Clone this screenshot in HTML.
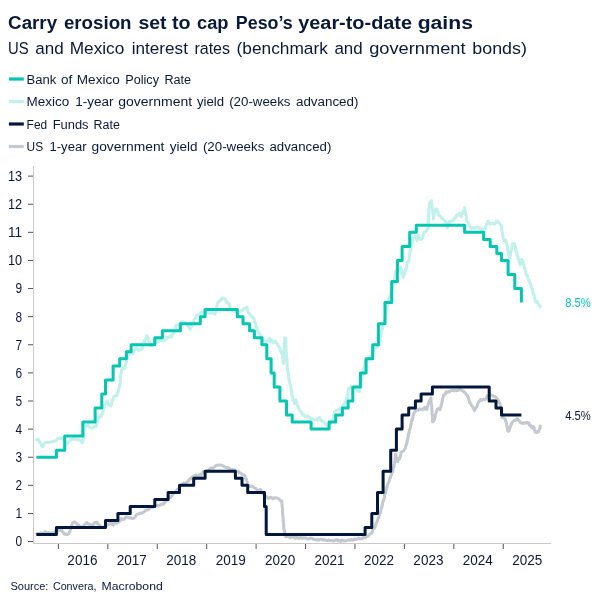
<!DOCTYPE html>
<html lang="en"><head><meta charset="utf-8"><title>Carry erosion set to cap Peso’s year-to-date gains</title>
<style>html,body{margin:0;padding:0;background:#fff}body{width:606px;height:606px;position:relative;overflow:hidden;font-family:"Liberation Sans",Arial,sans-serif}</style>
</head><body>
<svg width="606" height="606" viewBox="0 0 606 606" style="position:absolute;left:0;top:0">
<g shape-rendering="crispEdges">
<line x1="33.5" y1="166" x2="33.5" y2="544" stroke="#c9c9c9" stroke-width="1"/>
<line x1="33" y1="543.5" x2="551" y2="543.5" stroke="#c9c9c9" stroke-width="1"/>
</g>
<line x1="28" y1="541.55" x2="33" y2="541.55" stroke="#555" stroke-width="1"/>
<line x1="28" y1="513.44" x2="33" y2="513.44" stroke="#555" stroke-width="1"/>
<line x1="28" y1="485.33" x2="33" y2="485.33" stroke="#555" stroke-width="1"/>
<line x1="28" y1="457.22" x2="33" y2="457.22" stroke="#555" stroke-width="1"/>
<line x1="28" y1="429.11" x2="33" y2="429.11" stroke="#555" stroke-width="1"/>
<line x1="28" y1="401.0" x2="33" y2="401.0" stroke="#555" stroke-width="1"/>
<line x1="28" y1="372.89" x2="33" y2="372.89" stroke="#555" stroke-width="1"/>
<line x1="28" y1="344.78" x2="33" y2="344.78" stroke="#555" stroke-width="1"/>
<line x1="28" y1="316.67" x2="33" y2="316.67" stroke="#555" stroke-width="1"/>
<line x1="28" y1="288.56" x2="33" y2="288.56" stroke="#555" stroke-width="1"/>
<line x1="28" y1="260.45" x2="33" y2="260.45" stroke="#555" stroke-width="1"/>
<line x1="28" y1="232.34" x2="33" y2="232.34" stroke="#555" stroke-width="1"/>
<line x1="28" y1="204.23" x2="33" y2="204.23" stroke="#555" stroke-width="1"/>
<line x1="28" y1="176.12" x2="33" y2="176.12" stroke="#555" stroke-width="1"/>
<line x1="58.4" y1="544" x2="58.4" y2="549" stroke="#555" stroke-width="1"/>
<line x1="107.83" y1="544" x2="107.83" y2="549" stroke="#555" stroke-width="1"/>
<line x1="157.26" y1="544" x2="157.26" y2="549" stroke="#555" stroke-width="1"/>
<line x1="206.69" y1="544" x2="206.69" y2="549" stroke="#555" stroke-width="1"/>
<line x1="256.12" y1="544" x2="256.12" y2="549" stroke="#555" stroke-width="1"/>
<line x1="305.55" y1="544" x2="305.55" y2="549" stroke="#555" stroke-width="1"/>
<line x1="354.98" y1="544" x2="354.98" y2="549" stroke="#555" stroke-width="1"/>
<line x1="404.41" y1="544" x2="404.41" y2="549" stroke="#555" stroke-width="1"/>
<line x1="453.84" y1="544" x2="453.84" y2="549" stroke="#555" stroke-width="1"/>
<line x1="503.27" y1="544" x2="503.27" y2="549" stroke="#555" stroke-width="1"/>
<polyline fill="none" stroke="#c2f0ea" stroke-width="3.0" stroke-linejoin="round" stroke-linecap="round" points="36.3,439.6 37.9,439.2 38.4,439.3 38.8,440.9 39.4,441.3 40.1,443.2 40.7,443.7 41.6,445.2 42.3,446.5 43.1,446.4 43.7,444.2 44.5,443.4 45.5,442.5 46.5,442.5 47.6,442.3 48.3,442.7 49.5,442.4 50.5,442.1 51.8,441.9 53.2,441.5 54.3,441.1 56.0,440.7 56.7,440.4 57.5,438.7 58.5,438.7 59.8,437.8 60.9,438.6 62.2,437.8 62.8,438.9 63.9,440.0 64.6,440.4 65.1,442.5 65.4,442.2 65.8,444.3 66.0,444.9 66.8,443.9 67.6,443.1 68.5,442.4 69.5,441.2 70.2,440.5 71.0,439.9 72.5,439.0 73.7,439.0 74.5,439.2 76.1,439.0 77.5,439.9 78.4,439.8 79.4,439.5 80.4,440.4 81.2,441.3 82.0,442.7 82.7,442.2 82.7,440.8 83.0,439.9 83.4,439.3 83.4,437.6 83.5,436.2 83.8,435.4 83.9,434.8 84.1,432.3 84.2,431.1 84.3,432.0 84.4,429.9 84.7,429.1 84.8,427.7 85.2,427.5 85.2,426.2 85.5,425.6 86.8,425.7 88.1,425.2 88.9,426.8 90.0,427.0 90.6,427.7 92.3,428.3 93.3,427.7 94.0,426.5 95.2,426.4 96.1,426.3 96.4,425.2 96.5,422.8 96.9,423.6 97.2,420.5 97.5,420.8 97.7,419.6 98.1,418.8 98.7,417.4 99.8,416.3 100.3,416.8 101.2,416.3 101.8,413.8 102.4,413.5 102.9,412.4 103.2,410.2 103.1,410.1 103.5,408.1 103.3,407.3 103.8,407.2 104.4,406.7 104.7,405.1 105.4,404.5 105.8,403.7 106.4,403.1 107.2,401.2 107.6,402.7 108.1,403.2 108.1,404.5 108.9,404.2 110.0,405.6 110.9,406.1 110.6,405.6 111.4,405.1 111.7,403.3 112.1,401.9 112.3,400.2 112.7,399.5 112.9,399.2 113.5,397.4 114.0,396.6 114.1,396.4 115.3,395.6 116.8,395.5 117.2,393.1 117.7,393.5 118.4,391.3 118.5,390.6 118.9,389.9 119.1,388.2 119.3,387.3 119.4,387.4 119.6,385.4 119.8,384.2 120.1,384.0 120.1,382.3 120.2,381.1 120.2,380.2 120.3,379.7 120.6,378.5 120.1,377.6 120.6,375.4 120.6,375.1 121.0,374.0 121.2,372.6 121.5,371.6 121.5,370.3 121.9,369.8 122.5,368.0 123.5,368.3 124.7,368.6 125.2,366.7 125.2,365.0 125.5,365.2 125.8,363.9 126.2,362.6 126.6,361.2 126.5,359.7 127.1,359.2 127.2,358.8 127.3,358.3 127.8,356.2 127.9,356.0 128.4,354.4 129.3,354.0 129.9,353.2 130.4,352.1 131.9,352.9 132.9,353.9 133.3,352.0 134.3,351.4 134.8,349.7 135.5,348.8 136.6,348.0 137.7,349.6 138.8,350.9 139.6,349.7 140.4,349.1 141.2,348.6 141.9,349.1 142.5,346.1 142.8,345.5 143.0,345.0 143.3,344.4 143.7,342.7 144.1,342.6 144.8,341.3 144.7,340.3 145.4,339.1 145.6,338.9 146.2,337.7 146.5,336.3 147.0,335.6 147.5,337.0 148.1,338.2 148.7,338.6 148.7,340.4 149.2,341.0 149.3,341.8 149.6,342.4 149.9,343.1 150.3,345.4 151.8,345.6 152.3,345.1 153.3,343.3 153.6,343.8 154.6,342.7 155.3,342.0 156.7,342.3 157.6,340.8 158.4,339.7 159.4,341.5 160.7,340.5 162.0,340.7 163.1,340.8 164.1,340.7 165.1,340.4 165.9,338.8 166.7,337.4 167.5,337.8 168.5,337.2 169.9,336.6 170.7,335.3 171.7,336.8 172.4,334.8 173.0,333.1 173.4,332.6 173.9,332.8 174.6,331.2 174.8,329.7 175.1,329.5 175.6,328.8 175.7,326.8 175.8,325.5 177.2,325.2 178.3,324.9 179.6,323.3 180.8,322.5 181.7,321.8 182.9,321.8 183.8,322.5 184.9,322.4 185.0,323.6 185.9,322.8 186.9,324.4 187.2,325.4 188.1,325.5 188.7,327.2 189.6,328.3 190.2,329.2 190.2,327.4 191.2,325.6 191.9,326.6 192.3,325.1 192.6,324.3 193.1,323.3 193.3,322.5 193.7,321.8 194.1,319.6 194.5,319.3 195.3,318.5 196.1,317.2 196.3,315.6 197.9,314.9 199.2,314.6 200.3,313.7 201.5,312.2 202.6,313.5 203.6,312.2 204.8,312.1 205.9,312.4 207.1,312.7 208.3,312.5 210.0,313.2 210.8,313.3 212.1,312.3 212.9,313.1 213.7,313.5 214.9,314.3 215.3,312.8 215.6,311.9 215.9,311.8 216.3,309.4 216.5,309.2 216.8,307.7 216.8,307.1 216.7,305.9 216.9,305.1 217.2,303.7 217.7,302.9 218.8,301.7 219.6,300.8 220.3,300.9 221.0,299.5 221.8,299.4 222.0,298.0 223.1,298.2 224.7,299.0 225.2,298.5 225.8,301.0 226.5,301.9 227.2,303.0 228.2,302.7 229.3,305.1 229.4,303.9 230.0,306.0 229.8,306.5 229.9,308.2 230.4,308.5 231.2,309.4 232.2,310.4 233.1,310.9 233.9,311.2 235.0,311.5 236.4,312.3 237.1,312.5 238.4,312.8 239.5,311.7 240.8,311.6 241.8,310.4 243.2,309.8 244.1,308.2 245.7,308.5 246.8,307.1 247.4,308.8 247.4,310.8 248.0,311.5 248.3,312.2 248.4,312.9 249.2,314.0 249.8,314.0 250.3,315.2 251.0,315.8 251.6,316.4 252.7,317.8 253.6,317.7 254.2,319.9 254.3,320.1 254.6,322.3 255.2,322.5 255.5,323.9 255.9,325.6 256.1,326.3 256.4,327.5 256.8,327.2 257.0,329.1 257.3,330.0 257.6,331.3 258.3,332.2 258.7,332.5 259.4,333.3 260.0,334.8 260.5,335.1 261.3,336.6 262.3,338.1 262.5,338.3 263.2,338.9 264.1,340.1 264.9,341.4 266.3,341.8 267.3,341.0 268.7,339.1 270.0,338.3 270.6,341.3 271.4,341.7 272.0,340.8 272.5,342.5 273.3,341.3 273.8,342.3 275.1,340.9 275.5,341.6 276.0,342.8 276.8,343.1 277.3,344.0 277.9,344.8 278.5,346.1 278.9,346.6 279.6,348.6 280.0,348.1 280.2,350.5 280.7,351.6 281.0,352.3 281.6,351.6 281.8,353.7 282.2,354.4 282.7,355.7 282.7,356.1 282.4,357.6 282.9,358.4 283.0,360.2 283.0,360.8 283.1,362.3 283.6,363.0 283.4,363.4 283.5,363.2 283.5,362.5 283.4,360.8 283.9,360.7 283.7,359.2 284.1,358.4 283.5,356.9 284.2,355.2 284.0,353.8 284.2,353.4 284.1,353.3 283.6,351.1 284.1,350.0 284.1,349.3 284.3,348.5 284.1,348.0 284.4,346.6 284.3,345.9 284.3,344.0 284.5,343.4 284.2,342.9 284.5,341.5 284.4,340.3 284.6,339.6 284.5,337.8 285.7,338.4 285.8,338.7 285.8,341.2 285.9,341.4 285.9,341.7 285.7,344.4 285.6,343.8 286.0,345.1 285.8,345.9 286.2,347.1 285.9,347.5 286.1,349.5 286.1,351.3 286.1,350.9 286.0,352.6 286.5,353.0 286.3,354.6 286.5,355.3 286.6,357.2 286.6,357.8 286.8,359.2 287.0,359.4 287.1,360.9 286.8,361.8 286.9,363.0 287.3,363.1 287.0,365.6 287.3,366.7 287.2,367.3 287.2,368.0 287.8,370.1 288.1,370.5 287.9,371.4 287.9,373.3 288.5,373.2 288.7,374.1 288.7,375.4 288.5,377.0 288.7,378.5 289.0,379.0 289.2,380.1 289.4,381.4 289.8,382.1 289.9,384.1 290.0,384.0 290.4,385.2 290.3,386.2 290.6,386.8 290.9,387.8 291.1,388.8 291.5,390.2 291.6,391.5 291.8,392.3 292.0,393.4 291.7,394.5 292.1,395.8 292.5,396.1 292.3,396.3 292.7,398.1 292.9,400.3 293.6,400.3 293.8,401.2 294.3,402.2 294.7,403.8 294.8,402.5 295.5,400.7 295.6,400.1 295.8,399.8 296.2,401.0 296.6,401.4 296.9,402.4 296.9,404.4 297.5,405.4 297.4,406.4 298.3,406.8 298.3,407.9 299.0,408.7 299.6,409.3 300.0,410.7 300.7,411.6 301.7,411.9 302.1,414.0 302.7,414.5 303.9,414.7 304.8,416.2 305.8,415.9 306.9,416.8 307.6,415.9 308.7,416.9 310.0,417.9 310.9,418.6 312.0,418.6 312.9,419.1 314.0,419.7 315.3,420.4 316.1,419.3 317.4,419.5 318.3,418.2 319.6,417.3 320.2,419.7 321.1,420.2 322.0,421.1 322.9,421.7 323.5,421.4 324.3,422.3 325.3,423.8 326.2,423.7 326.9,424.9 327.6,426.3 329.0,425.2 330.0,423.1 330.6,423.9 331.2,422.3 331.7,421.5 332.2,421.0 332.7,419.0 333.2,418.4 333.4,417.2 333.6,416.0 334.0,414.8 334.0,414.3 334.5,412.2 335.4,411.1 336.2,410.5 337.4,410.2 338.4,409.5 339.4,409.4 340.0,408.7 340.5,407.5 341.0,407.1 341.8,406.4 342.8,405.4 343.4,405.0 343.9,404.1 344.7,403.6 345.2,401.9 345.9,401.6 346.0,400.1 346.5,399.3 346.6,397.5 346.7,396.7 347.2,395.3 347.4,397.1 347.2,397.7 347.4,398.9 347.5,397.7 347.7,396.0 347.4,396.6 347.9,395.4 347.7,393.9 348.1,392.9 348.0,392.0 348.2,389.6 348.6,389.2 349.2,388.1 349.7,388.2 350.7,386.7 351.7,386.7 352.4,388.2 353.6,388.4 355.0,388.5 355.8,389.3 356.4,390.0 357.3,391.0 358.3,390.3 359.6,391.3 360.1,388.4 360.1,386.9 360.2,387.6 360.4,386.3 360.5,384.8 360.8,382.4 360.8,383.4 360.9,381.9 361.5,380.2 361.6,379.4 361.6,378.4 362.0,376.5 362.1,375.2 362.4,374.8 362.6,372.8 363.1,373.2 363.1,371.6 363.3,369.2 364.0,369.7 363.6,369.1 364.2,368.2 364.4,366.7 364.7,365.3 364.7,363.9 364.9,363.5 365.5,361.6 365.9,361.9 366.0,360.2 366.9,359.0 367.7,359.3 368.6,358.4 369.7,357.9 370.5,356.5 371.3,356.3 372.3,357.2 372.5,353.9 372.8,354.0 372.7,352.2 373.3,351.4 373.4,350.6 373.8,348.2 375.1,348.3 376.1,348.2 377.1,346.2 378.0,346.7 378.5,345.9 378.7,345.6 379.3,343.8 379.2,342.4 379.4,341.6 379.7,341.9 380.1,340.5 380.0,339.4 380.2,337.6 380.6,336.9 381.1,336.0 380.9,335.3 381.0,334.2 381.6,332.7 381.5,332.3 381.6,330.9 381.9,329.8 382.1,329.0 382.5,328.6 382.6,327.0 382.6,325.4 383.1,324.1 383.4,323.3 383.7,323.0 383.9,322.0 384.1,320.7 384.6,319.9 384.8,319.4 384.9,317.5 385.0,316.9 385.3,315.2 385.5,314.7 385.7,313.4 386.0,312.4 386.1,311.1 386.2,310.0 386.5,310.0 386.7,308.7 386.6,307.9 386.7,305.3 387.0,306.4 387.4,305.4 387.5,304.2 388.1,303.2 388.1,302.2 388.3,301.6 388.5,299.4 389.0,298.4 389.5,298.2 389.4,297.7 390.0,295.7 390.3,295.5 390.3,293.7 390.7,293.6 391.2,292.8 391.2,290.2 391.3,290.9 392.0,289.7 392.1,288.2 392.4,287.5 392.7,285.8 392.7,285.4 393.2,285.0 393.4,282.4 393.5,282.4 394.2,281.2 394.0,280.6 394.5,280.0 394.6,278.9 394.6,277.5 394.9,277.4 394.7,275.2 395.2,274.4 395.3,273.4 395.4,272.8 396.2,271.3 396.6,271.1 396.9,269.5 397.3,269.4 398.3,267.5 399.5,267.6 400.1,266.9 400.7,268.0 401.0,268.6 401.3,270.1 401.7,270.9 401.2,273.0 401.9,272.2 402.0,273.8 402.6,275.0 403.0,276.1 403.3,277.2 403.4,276.7 403.9,275.6 404.1,273.7 404.6,274.1 405.1,271.2 404.9,271.8 405.7,269.2 406.1,269.1 406.5,267.7 406.4,266.9 406.5,265.2 406.9,264.0 407.4,262.5 408.0,262.3 408.7,261.0 408.9,260.2 409.1,259.7 409.2,257.7 409.3,256.9 409.7,253.7 409.8,253.6 409.9,253.2 409.9,251.5 410.2,252.5 410.3,249.9 410.6,249.0 411.0,249.2 411.0,247.3 411.2,246.9 411.4,245.4 411.6,244.6 411.8,242.6 412.3,241.0 412.2,240.8 412.3,241.0 412.7,238.7 412.7,238.1 413.6,237.2 414.4,237.5 415.3,236.1 415.5,236.8 416.2,237.9 416.6,239.2 417.0,240.5 417.2,239.2 417.6,238.7 418.3,237.8 418.1,237.5 418.6,235.1 419.0,236.4 419.4,237.4 419.8,239.1 420.5,239.5 421.5,239.2 422.6,238.0 422.7,237.2 422.8,235.8 423.1,235.2 423.5,234.0 424.3,232.5 425.3,231.9 426.0,231.3 426.7,230.5 427.2,229.1 428.2,228.6 428.0,227.3 428.2,226.9 428.1,224.7 428.5,224.2 428.1,223.2 428.1,222.4 428.3,220.7 428.5,219.8 428.2,219.3 428.4,217.6 428.3,216.7 428.5,215.8 428.6,215.7 428.9,214.2 428.9,212.8 428.7,212.3 429.1,210.6 428.9,209.6 428.9,209.2 429.0,208.6 429.4,207.0 429.2,205.5 429.4,204.9 429.6,203.4 430.4,202.6 430.9,201.9 431.5,200.7 431.6,202.3 431.8,202.6 431.8,205.0 431.8,204.4 432.0,205.2 432.0,206.6 432.3,208.3 432.3,208.7 432.6,209.7 432.8,211.9 432.6,211.4 432.8,212.6 432.9,214.1 433.3,216.1 433.1,214.8 433.5,216.9 433.2,218.4 433.4,218.8 433.4,218.3 433.9,216.4 433.8,216.3 434.0,214.5 434.1,213.5 434.6,212.6 434.7,211.8 435.0,210.7 436.0,209.0 436.8,209.0 436.9,210.2 437.4,211.3 437.5,211.9 438.2,212.2 438.1,213.8 438.6,215.1 439.3,215.5 440.3,216.4 440.9,217.3 442.2,218.1 443.3,219.3 443.8,219.6 444.6,220.9 445.3,221.1 445.6,222.0 446.0,223.8 446.4,224.6 446.4,225.0 446.9,227.1 447.2,227.9 447.5,226.0 447.9,226.8 448.1,225.2 448.4,224.6 448.6,222.9 449.2,221.5 450.1,222.3 450.8,221.3 451.9,220.7 452.5,220.8 453.3,220.1 454.2,218.9 455.0,218.3 455.5,217.6 456.4,215.8 456.6,214.9 457.3,215.0 458.5,215.2 459.8,213.0 460.3,214.9 461.4,216.7 461.7,214.9 462.3,213.8 462.4,212.9 462.7,212.5 463.1,211.7 463.7,210.3 464.2,209.8 464.7,207.5 464.8,209.5 464.9,209.9 465.4,211.4 465.5,212.7 465.8,213.9 465.8,214.5 465.6,214.8 466.3,215.7 466.1,217.1 466.3,218.9 466.6,219.3 466.6,220.8 467.3,221.4 468.0,221.9 468.5,223.0 469.0,224.4 469.8,226.6 470.2,226.9 470.3,227.1 471.9,228.3 473.2,227.5 474.2,227.7 475.9,227.4 476.8,226.9 478.2,227.2 479.1,228.2 480.6,228.2 481.7,229.3 483.2,229.1 484.2,229.5 484.7,230.7 485.1,228.9 485.3,228.1 485.6,227.1 485.9,226.7 486.2,225.1 486.4,224.1 487.1,223.0 487.5,221.6 488.3,221.1 488.9,222.1 489.6,224.0 490.5,224.0 491.5,223.7 492.5,223.4 493.6,223.3 494.5,224.2 495.4,223.1 496.1,223.0 496.5,220.9 498.0,221.8 499.3,222.9 500.5,224.4 501.7,225.7 501.6,226.3 501.8,227.8 501.7,229.3 501.9,229.9 501.7,230.6 502.1,232.1 502.4,232.6 502.5,233.3 502.4,235.1 502.5,235.2 502.8,236.0 503.1,237.9 503.2,238.8 503.3,239.0 504.3,240.6 505.5,239.9 506.1,242.7 506.4,243.8 506.8,244.2 506.7,244.9 507.5,245.9 507.4,247.2 508.0,248.6 507.7,249.3 508.2,251.3 508.4,252.1 508.4,252.4 508.4,253.3 508.6,255.3 509.2,255.9 509.8,258.1 510.1,255.4 509.8,254.9 510.5,254.8 510.7,253.2 510.9,252.0 511.0,250.5 511.8,249.8 511.6,249.1 511.9,247.7 512.1,247.6 512.1,245.2 512.3,244.2 513.0,243.7 514.1,243.3 514.5,243.5 514.6,244.4 514.9,245.8 515.3,246.8 515.3,248.4 515.7,248.3 515.7,250.4 516.0,251.5 516.8,252.6 516.9,253.7 517.0,254.5 517.1,255.6 517.7,256.4 518.1,257.2 518.0,258.9 518.5,258.9 518.7,260.0 519.1,260.5 519.3,261.9 519.7,262.9 519.9,263.6 520.2,264.9 520.5,264.2 520.8,262.8 520.9,262.1 521.1,261.0 521.7,259.6 521.7,259.2 522.6,261.1 522.8,260.7 523.2,261.7 523.2,263.5 523.8,264.5 524.1,265.6 524.2,266.9 524.6,267.8 524.7,268.8 525.1,269.5 525.3,270.8 525.6,271.8 525.7,273.2 526.1,274.4 526.6,275.2 527.3,275.3 527.4,277.1 528.0,278.0 528.3,279.2 528.8,280.5 529.2,281.4 529.6,282.7 529.9,283.1 530.4,283.2 530.7,284.8 531.2,286.0 531.3,287.6 531.7,287.7 532.2,288.3 532.4,290.7 532.6,291.9 533.1,292.2 533.2,294.2 534.0,294.4 534.1,294.8 534.4,297.0 534.5,297.6 534.9,298.6 535.0,300.5 535.6,301.5 536.4,302.5 537.1,301.3 538.0,303.3 538.5,304.9 539.1,305.2 540.3,306.7"/>
<polyline fill="none" stroke="#c3c9cf" stroke-width="3.0" stroke-linejoin="round" stroke-linecap="round" points="36.6,533.9 38.1,533.5 38.9,533.8 40.0,532.9 40.9,533.2 41.9,533.1 43.1,533.3 44.1,533.5 45.1,531.5 46.4,532.7 47.1,532.9 48.2,532.6 49.2,532.8 50.2,533.5 51.3,532.8 52.6,532.9 53.7,532.9 54.3,532.5 55.6,531.5 56.6,530.4 57.2,529.0 58.5,528.8 59.4,530.4 60.6,529.8 61.4,529.6 62.0,531.1 62.7,531.9 63.6,532.6 64.5,534.2 66.0,533.9 66.8,534.6 67.8,533.7 68.6,533.9 69.3,532.3 69.8,531.4 70.2,530.3 70.7,529.3 70.7,528.5 71.1,527.0 71.5,526.8 71.6,525.4 72.2,524.4 72.7,522.8 73.7,522.5 74.6,521.7 75.7,522.4 77.0,524.5 78.0,524.7 78.7,524.9 79.6,527.0 80.5,526.8 82.1,526.9 82.9,526.7 84.0,525.8 84.7,524.5 85.8,523.6 86.9,522.4 87.8,524.0 88.5,523.9 89.5,524.4 90.8,524.9 91.7,524.7 92.8,524.9 93.7,524.2 94.4,522.7 95.8,522.6 97.0,522.1 97.5,523.6 98.4,524.0 99.4,525.5 100.2,525.8 100.8,526.6 101.7,527.7 103.2,527.2 104.2,526.5 105.7,526.1 106.7,525.3 107.9,524.7 109.1,524.5 109.6,523.4 111.5,523.2 112.2,524.6 113.3,525.1 114.4,523.3 115.8,523.1 116.7,523.3 118.0,522.4 119.0,522.0 119.7,520.7 120.4,520.4 121.0,519.8 121.4,518.5 123.2,519.6 124.5,519.2 125.7,517.2 126.4,516.9 127.7,517.0 128.6,517.8 129.9,518.1 131.0,517.8 131.8,518.4 133.1,518.6 134.2,517.9 135.1,517.0 135.8,516.2 136.7,514.4 137.5,514.3 138.1,513.7 139.4,513.8 140.5,513.0 141.3,513.4 142.8,512.5 143.8,512.1 144.7,511.4 145.9,509.9 147.1,510.0 148.4,509.8 149.0,507.8 150.3,508.1 151.3,507.0 152.4,506.7 153.3,507.3 154.5,506.0 155.3,505.9 156.8,505.5 157.8,505.2 158.5,505.7 159.5,505.2 160.5,505.0 162.0,503.7 162.9,503.3 163.4,504.3 164.6,502.7 165.4,501.8 166.6,500.2 167.0,500.1 167.8,499.8 168.6,498.0 169.3,498.0 170.5,497.4 171.4,495.9 172.1,495.7 172.8,494.1 173.8,493.3 174.4,492.4 175.5,492.0 176.0,491.1 176.9,490.4 177.5,489.0 178.7,489.3 179.2,488.0 180.1,485.9 181.0,485.7 182.0,485.3 182.7,483.9 183.8,483.0 184.9,484.0 185.8,483.0 187.3,481.8 188.4,481.2 189.2,479.4 190.0,478.8 191.3,478.9 191.7,477.2 192.9,476.5 193.9,477.1 194.8,475.7 195.9,474.8 197.0,476.2 198.1,475.8 198.9,475.3 199.8,474.8 200.9,475.6 201.7,473.6 202.2,473.0 203.2,471.5 204.1,471.8 205.3,471.7 206.4,470.9 207.7,470.9 208.7,470.7 209.7,468.9 210.7,468.1 212.0,468.1 213.1,468.2 214.0,467.3 215.1,466.6 215.9,465.9 216.4,465.3 217.1,465.2 218.1,465.2 219.1,464.9 220.5,465.1 221.6,465.2 222.4,465.5 223.6,466.3 224.8,467.1 225.8,467.2 226.7,467.6 228.2,467.4 229.2,468.7 230.2,468.7 231.3,470.1 232.7,469.8 233.5,469.8 234.7,470.0 235.8,470.7 237.0,471.5 238.5,471.3 239.1,472.8 240.5,472.9 241.6,473.8 242.7,474.9 243.6,475.0 244.4,475.2 245.0,475.7 245.3,477.7 246.0,478.9 246.5,478.9 246.4,479.2 246.7,480.6 247.1,481.8 247.0,482.4 247.8,485.3 248.6,485.0 249.4,486.5 250.7,486.0 251.4,486.2 252.9,487.1 253.7,486.9 254.4,488.1 255.6,488.2 256.1,488.7 256.9,489.7 257.9,490.0 259.0,490.5 260.3,489.6 260.9,490.0 261.5,491.3 262.1,492.5 262.7,493.4 263.3,494.1 263.8,494.3 264.4,496.0 265.3,496.3 266.1,496.4 266.9,497.2 267.4,498.0 268.7,498.6 269.8,497.4 271.1,497.5 271.9,497.8 273.1,498.8 274.1,497.7 275.0,497.8 276.8,498.0 277.5,498.2 278.8,498.8 280.4,500.5 281.1,501.5 281.6,500.9 281.9,503.1 281.9,503.9 282.1,505.2 282.1,506.2 282.1,506.8 282.4,507.8 282.6,509.3 282.4,510.6 282.4,510.9 282.5,512.1 282.8,514.2 282.8,513.6 282.7,514.3 283.0,516.7 283.0,517.5 283.1,518.6 283.2,519.6 283.0,521.0 283.4,520.7 283.3,522.0 283.5,523.6 283.8,525.4 283.6,525.7 283.7,527.3 283.8,528.3 283.9,529.7 284.3,529.7 284.2,531.5 284.5,531.0 284.9,534.3 285.1,533.9 285.7,535.7 285.8,536.9 286.7,536.5 287.8,536.5 289.1,536.9 290.3,537.6 291.2,536.4 292.1,537.1 293.1,537.4 294.0,536.6 295.5,538.4 296.9,537.3 297.6,537.6 298.9,538.6 299.9,537.4 301.2,537.6 302.0,538.3 303.2,537.7 304.3,538.1 305.4,538.0 306.6,538.3 307.5,539.1 308.6,539.0 309.9,538.5 310.9,538.1 312.0,538.4 313.0,539.2 314.1,539.2 315.4,539.8 316.5,539.9 317.4,539.3 318.7,540.2 319.8,539.4 320.6,539.2 322.1,539.3 323.0,540.2 324.2,539.6 325.5,540.1 326.3,540.6 327.4,540.6 328.5,539.9 329.5,540.6 330.7,540.4 331.7,540.4 333.0,541.1 334.0,540.7 334.8,540.1 336.1,540.2 337.4,539.6 338.5,541.0 339.8,540.4 340.7,541.4 341.8,540.2 342.7,540.1 343.9,540.9 345.2,540.7 346.2,540.8 347.1,540.5 348.4,539.9 349.3,540.0 350.5,540.2 351.3,539.5 353.0,540.3 353.8,539.4 354.9,539.0 355.9,539.4 356.8,539.2 358.0,538.5 358.9,538.2 360.0,539.0 360.9,538.7 362.1,538.7 362.8,537.9 363.9,536.8 365.3,537.8 366.4,537.1 367.2,536.2 368.3,536.1 368.9,534.9 370.0,534.3 371.1,532.9 371.9,533.0 372.1,532.4 372.8,529.7 373.7,529.0 374.2,528.3 374.4,528.2 375.2,526.4 375.6,525.4 375.8,524.3 376.0,523.4 376.5,522.8 377.0,521.4 377.5,520.9 377.9,519.6 378.0,518.5 378.4,517.8 378.7,517.8 379.2,515.7 379.5,514.9 379.7,513.9 380.1,513.3 380.6,512.0 380.7,511.0 381.0,509.8 381.2,508.7 381.3,508.3 382.0,507.0 382.0,505.6 382.6,504.3 382.5,503.2 382.6,502.7 383.3,500.4 383.6,500.6 383.9,499.2 384.3,497.9 384.6,496.6 384.5,495.4 384.7,494.7 385.1,493.6 385.5,493.1 386.0,490.9 386.0,490.2 386.2,490.2 386.7,488.2 386.6,487.0 387.1,487.2 387.2,486.1 387.7,484.5 388.3,483.0 388.6,482.4 389.3,480.6 389.4,480.0 390.0,478.3 390.4,478.0 390.5,476.7 390.7,476.4 391.5,474.9 391.5,473.5 392.0,472.6 392.5,471.6 392.9,471.6 393.0,469.6 392.9,468.9 393.6,467.4 394.0,466.4 393.9,466.1 394.4,463.5 394.5,462.8 394.8,462.5 394.8,461.4 395.1,460.2 394.9,458.8 395.3,459.2 395.3,457.5 395.3,456.0 395.6,455.0 395.6,454.3 396.0,455.4 396.0,456.2 396.2,457.9 396.8,457.6 396.9,459.0 396.9,460.4 397.1,461.4 397.8,461.7 398.4,459.6 399.3,459.2 399.5,458.0 400.1,457.9 400.5,455.8 400.7,455.6 401.0,453.2 401.3,452.3 402.7,451.2 403.7,450.9 404.1,450.2 404.6,449.1 405.2,448.6 405.8,446.5 405.8,445.3 406.3,445.1 406.5,443.7 407.0,443.0 407.1,441.8 407.1,441.0 407.9,439.4 407.7,438.9 407.9,437.3 408.3,436.1 408.6,434.2 408.3,434.5 409.0,433.3 409.0,432.1 409.4,430.5 409.6,429.6 410.1,429.1 410.1,428.3 410.5,427.2 410.5,425.7 411.0,424.6 411.2,423.1 411.5,423.0 411.6,420.5 411.9,419.3 412.5,419.9 412.7,417.9 413.1,417.5 412.8,415.9 413.8,414.8 413.6,413.7 414.2,412.9 414.3,412.7 415.2,411.5 415.9,410.4 417.2,409.8 418.4,410.2 419.7,408.7 420.6,409.3 422.2,409.9 423.3,408.9 424.6,407.3 425.5,409.3 427.0,409.2 426.9,407.4 427.4,406.8 427.9,405.6 428.1,404.6 428.3,404.2 428.7,403.5 428.8,402.4 429.5,400.6 430.1,399.7 430.2,399.3 430.9,397.9 431.1,399.4 430.9,400.7 431.1,401.0 431.2,403.1 431.4,403.5 431.6,404.0 431.7,406.5 431.6,406.4 431.8,407.9 431.8,409.0 431.9,410.1 432.2,411.2 432.0,412.4 432.0,412.7 432.2,414.6 432.2,415.3 432.6,417.0 432.7,416.6 432.5,418.3 432.6,419.3 432.6,420.0 432.4,421.4 432.7,421.7 433.5,421.2 433.7,420.6 434.5,419.8 434.7,418.8 435.0,417.9 435.2,415.8 435.3,415.4 435.9,413.3 436.1,412.9 436.5,411.5 436.7,410.6 437.2,409.6 437.7,408.8 439.2,408.7 440.0,409.7 440.5,408.0 440.5,407.5 441.0,406.6 441.3,404.5 441.7,404.0 442.1,402.8 441.8,401.8 442.4,401.0 442.6,399.4 442.6,398.5 443.1,397.2 443.4,396.3 443.7,395.2 444.5,394.6 445.5,393.9 446.0,392.1 447.2,392.3 448.2,391.5 449.2,391.9 450.3,391.3 451.3,390.6 452.5,390.5 453.5,390.3 454.5,391.0 455.8,390.4 456.5,390.7 457.9,390.5 459.0,390.0 459.9,388.9 461.2,390.2 462.1,390.5 463.1,391.1 464.3,392.0 464.9,393.0 465.9,393.9 466.1,394.6 467.0,395.0 467.4,396.2 468.0,397.0 468.3,397.5 468.9,398.7 468.8,399.6 469.3,401.1 469.6,402.8 470.0,402.3 470.6,403.9 471.3,405.1 472.0,406.2 472.7,406.6 473.3,408.7 473.7,408.7 474.4,410.6 475.4,408.6 475.8,407.6 476.6,407.2 476.9,406.5 477.3,405.9 477.7,403.9 478.1,403.2 478.7,402.0 479.5,401.0 480.5,399.5 481.9,400.4 483.1,399.3 484.5,399.7 485.6,399.2 486.4,397.9 487.3,395.8 488.4,395.3 489.8,393.5 490.8,395.1 491.9,395.5 492.8,395.7 494.1,396.1 495.7,397.0 496.5,398.0 497.1,398.7 497.8,399.5 498.6,401.5 499.2,402.3 499.5,402.6 500.1,404.3 500.3,405.6 500.8,406.2 501.2,407.5 501.5,408.7 501.3,409.3 501.9,410.4 501.7,411.5 501.6,413.3 502.0,413.3 501.9,415.6 502.0,415.8 502.2,417.2 501.9,417.5 503.6,418.0 504.6,418.4 505.3,419.1 505.4,420.6 505.8,421.2 506.1,422.7 506.5,423.0 506.6,424.6 506.8,425.9 507.1,427.1 507.4,428.3 507.3,428.2 507.9,430.8 508.5,431.4 509.3,430.7 509.3,430.1 509.8,428.6 510.0,426.9 510.3,427.2 510.5,426.3 511.4,423.6 511.5,424.5 512.1,422.5 512.7,421.8 513.8,420.7 514.3,420.4 515.6,420.3 516.7,418.8 517.5,418.8 518.1,419.4 518.8,420.7 519.2,421.2 520.9,422.8 521.7,423.0 523.2,423.6 524.4,422.6 525.8,423.2 526.8,422.2 527.8,423.2 528.7,422.8 529.3,425.1 530.0,425.6 530.6,425.4 531.4,427.5 531.9,427.9 533.0,426.4 533.9,427.7 534.2,428.4 534.3,429.1 534.4,430.2 534.9,430.7 535.1,431.9 536.4,432.5 537.8,431.3 538.4,431.9 539.0,430.1 539.9,428.9 540.0,428.3 540.0,427.0 540.2,425.9"/>
<polyline fill="none" stroke="#06c5b1" stroke-width="3.0" stroke-linejoin="round" stroke-linecap="butt" points="36.4,457.2 56.4,457.2 56.4,450.2 64.7,450.2 64.7,436.1 82.8,436.1 82.8,422.1 95.1,422.1 95.1,408.0 101.8,408.0 101.8,394.0 105.5,394.0 105.5,379.9 113.1,379.9 113.1,365.9 119.7,365.9 119.7,358.8 126.4,358.8 126.4,351.8 131.1,351.8 131.1,344.8 154.8,344.8 154.8,337.8 162.4,337.8 162.4,330.7 180.4,330.7 180.4,323.7 200.3,323.7 200.3,316.7 205.1,316.7 205.1,309.6 237.3,309.6 237.3,316.7 243.0,316.7 243.0,323.7 249.6,323.7 249.6,330.7 254.4,330.7 254.4,337.8 261.9,337.8 261.9,344.8 266.8,344.8 266.8,358.8 271.1,358.8 271.1,372.9 274.2,372.9 274.2,386.9 279.9,386.9 279.9,401.0 286.5,401.0 286.5,415.1 292.2,415.1 292.2,422.1 311.1,422.1 311.1,429.1 329.1,429.1 329.1,422.1 335.7,422.1 335.7,415.1 342.4,415.1 342.4,408.0 348.1,408.0 348.1,401.0 352.8,401.0 352.8,386.9 360.4,386.9 360.4,372.9 366.1,372.9 366.1,358.8 372.7,358.8 372.7,344.8 378.4,344.8 378.4,323.7 385.0,323.7 385.0,302.6 391.7,302.6 391.7,281.5 397.4,281.5 397.4,260.4 402.1,260.4 402.1,246.4 409.7,246.4 409.7,232.3 416.3,232.3 416.3,225.3 464.6,225.3 464.6,232.3 483.6,232.3 483.6,239.4 490.2,239.4 490.2,246.4 496.8,246.4 496.8,253.4 501.5,253.4 501.5,260.4 508.1,260.4 508.1,274.5 514.8,274.5 514.8,288.6 521.4,288.6 521.4,302.6"/>
<polyline fill="none" stroke="#03173a" stroke-width="3.0" stroke-linejoin="round" stroke-linecap="butt" points="36.4,534.5 56.4,534.5 56.4,527.5 105.5,527.5 105.5,520.5 117.9,520.5 117.9,513.4 130.2,513.4 130.2,506.4 154.8,506.4 154.8,499.4 168.1,499.4 168.1,492.4 179.5,492.4 179.5,485.3 193.7,485.3 193.7,478.3 205.1,478.3 205.1,471.3 235.4,471.3 235.4,478.3 242.0,478.3 242.0,485.3 247.7,485.3 247.7,492.4 264.5,492.4 264.5,506.4 266.2,506.4 266.2,534.5 365.1,534.5 365.1,527.5 371.8,527.5 371.8,513.4 377.5,513.4 377.5,492.4 383.1,492.4 383.1,471.3 390.7,471.3 390.7,450.2 396.4,450.2 396.4,429.1 402.1,429.1 402.1,415.1 408.7,415.1 408.7,408.0 415.4,408.0 415.4,401.0 421.1,401.0 421.1,394.0 432.4,394.0 432.4,386.9 489.2,386.9 489.2,401.0 496.0,401.0 496.0,408.0 501.5,408.0 501.5,415.1 521.4,415.1"/>
<line x1="8.9" y1="79" x2="23.8" y2="79" stroke="#06c5b1" stroke-width="3.2"/>
<line x1="8.9" y1="101.5" x2="23.8" y2="101.5" stroke="#c2f0ea" stroke-width="3.2"/>
<line x1="8.9" y1="124" x2="23.8" y2="124" stroke="#03173a" stroke-width="3.2"/>
<line x1="8.9" y1="146.5" x2="23.8" y2="146.5" stroke="#c3c9cf" stroke-width="3.2"/>
<g font-family="Liberation Sans, Arial, sans-serif" fill="#0a1937">
<text y="29.2" font-size="18.7" font-weight="bold"><tspan x="8.10" textLength="48.96" lengthAdjust="spacingAndGlyphs">Carry</tspan> <tspan x="63.90" textLength="67.64" lengthAdjust="spacingAndGlyphs">erosion</tspan> <tspan x="138.40" textLength="28.11" lengthAdjust="spacingAndGlyphs">set</tspan> <tspan x="171.90" textLength="18.58" lengthAdjust="spacingAndGlyphs">to</tspan> <tspan x="197.00" textLength="31.47" lengthAdjust="spacingAndGlyphs">cap</tspan> <tspan x="235.80" textLength="56.94" lengthAdjust="spacingAndGlyphs">Peso’s</tspan> <tspan x="298.20" textLength="113.88" lengthAdjust="spacingAndGlyphs">year-to-date</tspan> <tspan x="417.70" textLength="55.24" lengthAdjust="spacingAndGlyphs">gains</tspan></text>
<text y="53.6" font-size="16.9"><tspan x="8.10" textLength="20.69" lengthAdjust="spacingAndGlyphs">US</tspan> <tspan x="35.30" textLength="28.37" lengthAdjust="spacingAndGlyphs">and</tspan> <tspan x="69.70" textLength="54.66" lengthAdjust="spacingAndGlyphs">Mexico</tspan> <tspan x="131.80" textLength="56.09" lengthAdjust="spacingAndGlyphs">interest</tspan> <tspan x="194.40" textLength="35.67" lengthAdjust="spacingAndGlyphs">rates</tspan> <tspan x="236.60" textLength="91.21" lengthAdjust="spacingAndGlyphs">(benchmark</tspan> <tspan x="334.40" textLength="28.27" lengthAdjust="spacingAndGlyphs">and</tspan> <tspan x="369.20" textLength="96.32" lengthAdjust="spacingAndGlyphs">government</tspan> <tspan x="472.30" textLength="54.66" lengthAdjust="spacingAndGlyphs">bonds)</tspan></text>
<text y="83.5" font-size="13.7"><tspan x="26.60" textLength="29.73" lengthAdjust="spacingAndGlyphs">Bank</tspan> <tspan x="61.00" textLength="11.29" lengthAdjust="spacingAndGlyphs">of</tspan> <tspan x="76.80" textLength="42.97" lengthAdjust="spacingAndGlyphs">Mexico</tspan> <tspan x="125.30" textLength="33.67" lengthAdjust="spacingAndGlyphs">Policy</tspan> <tspan x="164.40" textLength="26.73" lengthAdjust="spacingAndGlyphs">Rate</tspan></text>
<text y="106.1" font-size="13.7"><tspan x="26.60" textLength="42.67" lengthAdjust="spacingAndGlyphs">Mexico</tspan> <tspan x="75.20" textLength="38.29" lengthAdjust="spacingAndGlyphs">1-year</tspan> <tspan x="118.20" textLength="73.91" lengthAdjust="spacingAndGlyphs">government</tspan> <tspan x="196.90" textLength="27.22" lengthAdjust="spacingAndGlyphs">yield</tspan> <tspan x="229.20" textLength="61.27" lengthAdjust="spacingAndGlyphs">(20-weeks</tspan> <tspan x="296.00" textLength="62.40" lengthAdjust="spacingAndGlyphs">advanced)</tspan></text>
<text y="128.5" font-size="13.7"><tspan x="26.60" textLength="20.58" lengthAdjust="spacingAndGlyphs">Fed</tspan> <tspan x="52.70" textLength="35.89" lengthAdjust="spacingAndGlyphs">Funds</tspan> <tspan x="93.50" textLength="26.33" lengthAdjust="spacingAndGlyphs">Rate</tspan></text>
<text y="151.1" font-size="13.7"><tspan x="26.60" textLength="16.59" lengthAdjust="spacingAndGlyphs">US</tspan> <tspan x="49.50" textLength="36.99" lengthAdjust="spacingAndGlyphs">1-year</tspan> <tspan x="91.50" textLength="72.91" lengthAdjust="spacingAndGlyphs">government</tspan> <tspan x="169.70" textLength="27.82" lengthAdjust="spacingAndGlyphs">yield</tspan> <tspan x="202.90" textLength="61.47" lengthAdjust="spacingAndGlyphs">(20-weeks</tspan> <tspan x="269.50" textLength="61.80" lengthAdjust="spacingAndGlyphs">advanced)</tspan></text>
<text y="546.3" font-size="14"><tspan x="15.40" textLength="6.61" lengthAdjust="spacingAndGlyphs">0</tspan></text>
<text y="518.2" font-size="14"><tspan x="15.40" textLength="6.61" lengthAdjust="spacingAndGlyphs">1</tspan></text>
<text y="490.1" font-size="14"><tspan x="15.40" textLength="6.61" lengthAdjust="spacingAndGlyphs">2</tspan></text>
<text y="462.0" font-size="14"><tspan x="15.40" textLength="6.61" lengthAdjust="spacingAndGlyphs">3</tspan></text>
<text y="433.9" font-size="14"><tspan x="15.40" textLength="6.61" lengthAdjust="spacingAndGlyphs">4</tspan></text>
<text y="405.8" font-size="14"><tspan x="15.40" textLength="6.61" lengthAdjust="spacingAndGlyphs">5</tspan></text>
<text y="377.7" font-size="14"><tspan x="15.40" textLength="6.61" lengthAdjust="spacingAndGlyphs">6</tspan></text>
<text y="349.6" font-size="14"><tspan x="15.40" textLength="6.61" lengthAdjust="spacingAndGlyphs">7</tspan></text>
<text y="321.5" font-size="14"><tspan x="15.40" textLength="6.61" lengthAdjust="spacingAndGlyphs">8</tspan></text>
<text y="293.4" font-size="14"><tspan x="15.40" textLength="6.61" lengthAdjust="spacingAndGlyphs">9</tspan></text>
<text y="265.2" font-size="14"><tspan x="7.90" textLength="14.13" lengthAdjust="spacingAndGlyphs">10</tspan></text>
<text y="237.1" font-size="14"><tspan x="7.90" textLength="14.07" lengthAdjust="spacingAndGlyphs">11</tspan></text>
<text y="209.0" font-size="14"><tspan x="7.90" textLength="14.13" lengthAdjust="spacingAndGlyphs">12</tspan></text>
<text y="180.9" font-size="14"><tspan x="7.90" textLength="14.13" lengthAdjust="spacingAndGlyphs">13</tspan></text>
<text y="565.1" font-size="14"><tspan x="67.36" textLength="30.10" lengthAdjust="spacingAndGlyphs">2016</tspan></text>
<text y="565.1" font-size="14"><tspan x="116.80" textLength="30.10" lengthAdjust="spacingAndGlyphs">2017</tspan></text>
<text y="565.1" font-size="14"><tspan x="166.22" textLength="30.10" lengthAdjust="spacingAndGlyphs">2018</tspan></text>
<text y="565.1" font-size="14"><tspan x="215.66" textLength="30.10" lengthAdjust="spacingAndGlyphs">2019</tspan></text>
<text y="565.1" font-size="14"><tspan x="265.08" textLength="30.10" lengthAdjust="spacingAndGlyphs">2020</tspan></text>
<text y="565.1" font-size="14"><tspan x="314.51" textLength="30.10" lengthAdjust="spacingAndGlyphs">2021</tspan></text>
<text y="565.1" font-size="14"><tspan x="363.94" textLength="30.10" lengthAdjust="spacingAndGlyphs">2022</tspan></text>
<text y="565.1" font-size="14"><tspan x="413.37" textLength="30.10" lengthAdjust="spacingAndGlyphs">2023</tspan></text>
<text y="565.1" font-size="14"><tspan x="462.80" textLength="30.10" lengthAdjust="spacingAndGlyphs">2024</tspan></text>
<text y="565.1" font-size="14"><tspan x="512.24" textLength="30.10" lengthAdjust="spacingAndGlyphs">2025</tspan></text>
<text y="420.3" font-size="12"><tspan x="565.20" textLength="25.59" lengthAdjust="spacingAndGlyphs">4.5%</tspan></text>
<text y="306.9" font-size="12" fill="#06c5b1"><tspan x="565.20" textLength="25.59" lengthAdjust="spacingAndGlyphs">8.5%</tspan></text>
<text y="589.6" font-size="11.7"><tspan x="10.40" textLength="38.02" lengthAdjust="spacingAndGlyphs">Source:</tspan> <tspan x="52.90" textLength="43.58" lengthAdjust="spacingAndGlyphs">Convera,</tspan> <tspan x="101.60" textLength="61.18" lengthAdjust="spacingAndGlyphs">Macrobond</tspan></text>
</g>
</svg>
</body></html>
